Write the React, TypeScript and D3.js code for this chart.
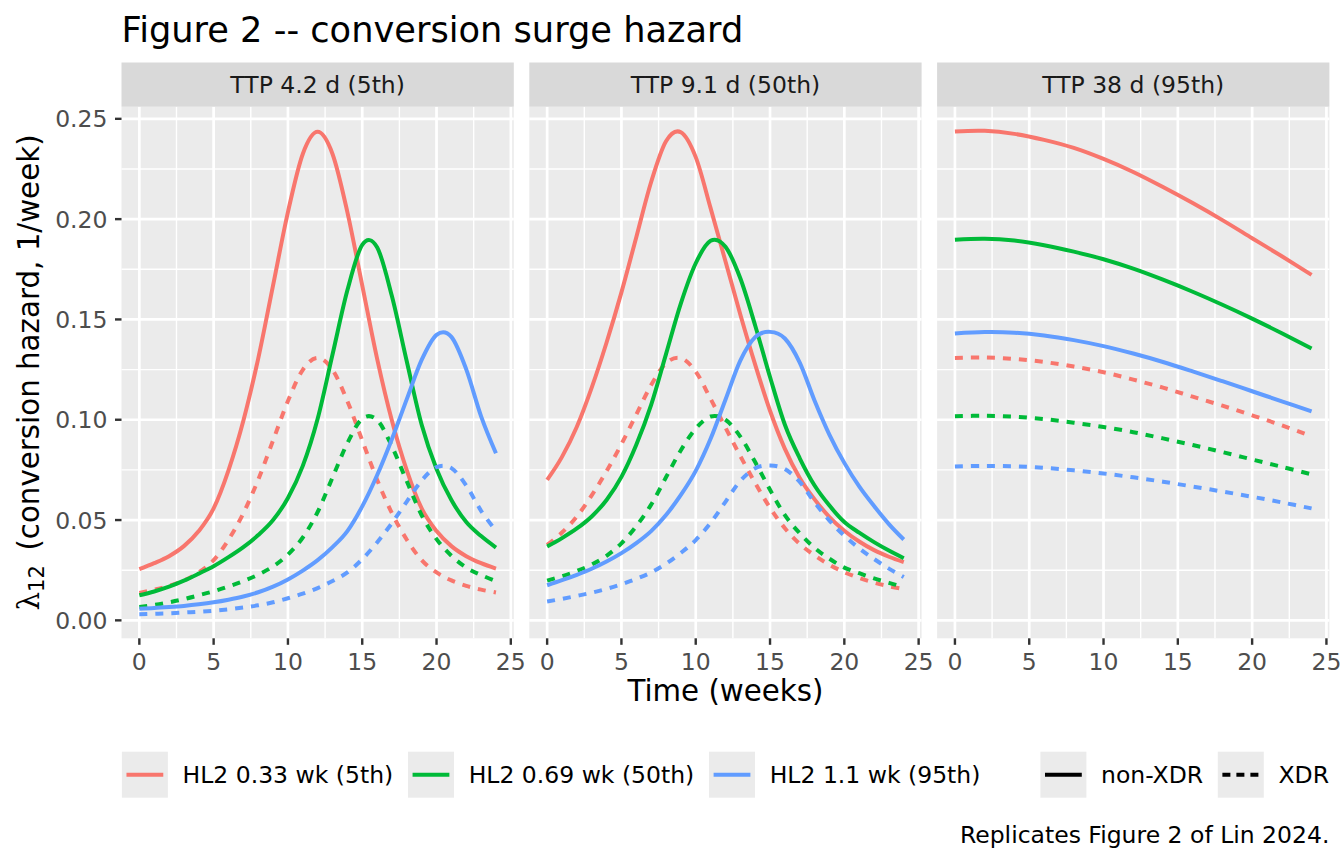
import React, { useEffect, useRef } from 'react';
import * as d3 from 'd3';

// x values (weeks); the 95th TTP panel was read every two weeks
const weeks = [0, 1, 2, 3, 4, 5, 6, 7, 8, 9, 10, 11, 12, 13, 14, 15, 16, 17, 18, 19, 20, 21, 22, 23, 24];
const weeksTtp95 = [0, 2, 4, 6, 8, 10, 12, 14, 16, 18, 20, 22, 24];

const facetLabels = ['TTP 4.2 d (5th)', 'TTP 9.1 d (50th)', 'TTP 38 d (95th)'];
const hl2Labels = ['HL2 0.33 wk (5th)', 'HL2 0.69 wk (50th)', 'HL2 1.1 wk (95th)'];
const typeLabels = ['non-XDR', 'XDR'];
const hl2Colors = ['#F8766D', '#00BA38', '#619CFF'];

const xTicks = [0, 5, 10, 15, 20, 25];
const xMinorTicks = [2.5, 7.5, 12.5, 17.5, 22.5];
const yTicks = [0, 0.05, 0.1, 0.15, 0.2, 0.25];
const yMinorTicks = [0.025, 0.075, 0.125, 0.175, 0.225];

// TTP 4.2 d (5th)
const ttp5Hl5NonXdr = [0.0255, 0.0285, 0.032, 0.037, 0.0445, 0.0558, 0.0748, 0.0995, 0.1305, 0.167, 0.2035, 0.2325, 0.2435, 0.2325, 0.2035, 0.167, 0.1305, 0.0995, 0.0748, 0.0558, 0.0445, 0.037, 0.032, 0.0285, 0.0258];
const ttp5Hl50NonXdr = [0.0125, 0.0144, 0.0168, 0.0198, 0.0233, 0.027, 0.0315, 0.0365, 0.0425, 0.05, 0.061, 0.077, 0.1005, 0.1325, 0.1645, 0.1872, 0.186, 0.1615, 0.129, 0.0975, 0.0755, 0.06, 0.049, 0.042, 0.0363];
const ttp5Hl95NonXdr = [0.0058, 0.0061, 0.0066, 0.0072, 0.008, 0.009, 0.0103, 0.0119, 0.014, 0.0168, 0.0204, 0.0248, 0.03, 0.0365, 0.0445, 0.0568, 0.0723, 0.0904, 0.1103, 0.1298, 0.1423, 0.1413, 0.1251, 0.1017, 0.0833];
const ttp5Hl5Xdr = [0.0137, 0.0153, 0.0172, 0.0199, 0.0239, 0.03, 0.0402, 0.0534, 0.0701, 0.0897, 0.1093, 0.1249, 0.1308, 0.1249, 0.1093, 0.0897, 0.0701, 0.0534, 0.0402, 0.03, 0.0239, 0.0199, 0.0172, 0.0153, 0.0139];
const ttp5Hl50Xdr = [0.0067, 0.0077, 0.009, 0.0106, 0.0125, 0.0145, 0.0169, 0.0196, 0.0228, 0.0269, 0.0328, 0.0413, 0.054, 0.0712, 0.0883, 0.1005, 0.0999, 0.0867, 0.0693, 0.0524, 0.0405, 0.0322, 0.0263, 0.0226, 0.0195];
const ttp5Hl95Xdr = [0.0031, 0.0033, 0.0035, 0.0039, 0.0043, 0.0048, 0.0055, 0.0064, 0.0075, 0.009, 0.011, 0.0133, 0.0161, 0.0196, 0.0239, 0.0305, 0.0388, 0.0485, 0.0592, 0.0697, 0.0764, 0.0759, 0.0672, 0.0546, 0.0447];

// TTP 9.1 d (50th)
const ttp50Hl5NonXdr = [0.07, 0.0815, 0.0965, 0.116, 0.1385, 0.1635, 0.191, 0.2185, 0.2388, 0.2433, 0.2309, 0.2055, 0.179, 0.1525, 0.1275, 0.1045, 0.0855, 0.071, 0.0603, 0.0515, 0.0447, 0.0393, 0.035, 0.0317, 0.029];
const ttp50Hl50NonXdr = [0.0368, 0.041, 0.0458, 0.0518, 0.06, 0.0715, 0.0875, 0.1074, 0.1327, 0.158, 0.178, 0.1892, 0.1862, 0.1705, 0.147, 0.1213, 0.0975, 0.0808, 0.0672, 0.0572, 0.049, 0.0437, 0.039, 0.0348, 0.031];
const ttp50Hl95NonXdr = [0.0175, 0.02, 0.0227, 0.0257, 0.0293, 0.0335, 0.0385, 0.0445, 0.0525, 0.0625, 0.0745, 0.0905, 0.11, 0.1295, 0.1412, 0.1438, 0.1405, 0.1285, 0.1095, 0.0925, 0.0785, 0.0668, 0.057, 0.048, 0.0403];
const ttp50Hl5Xdr = [0.0376, 0.0438, 0.0518, 0.0623, 0.0744, 0.0878, 0.1026, 0.1173, 0.1282, 0.1307, 0.124, 0.1104, 0.0961, 0.0819, 0.0685, 0.0561, 0.0459, 0.0381, 0.0324, 0.0277, 0.024, 0.0211, 0.0188, 0.017, 0.0156];
const ttp50Hl50Xdr = [0.0198, 0.022, 0.0246, 0.0278, 0.0322, 0.0384, 0.047, 0.0577, 0.0713, 0.0848, 0.0956, 0.1016, 0.1, 0.0916, 0.0789, 0.0651, 0.0524, 0.0434, 0.0361, 0.0307, 0.0263, 0.0235, 0.0209, 0.0187, 0.0166];
const ttp50Hl95Xdr = [0.0094, 0.0107, 0.0122, 0.0138, 0.0157, 0.018, 0.0207, 0.0239, 0.0282, 0.0336, 0.04, 0.0486, 0.0591, 0.0695, 0.0758, 0.0772, 0.0754, 0.069, 0.0588, 0.0497, 0.0422, 0.0359, 0.0306, 0.0258, 0.0216];

// TTP 38 d (95th)
const ttp95Hl5NonXdr = [0.2437, 0.244, 0.2425, 0.2395, 0.2355, 0.23, 0.2235, 0.216, 0.208, 0.1995, 0.1905, 0.1815, 0.1722];
const ttp95Hl50NonXdr = [0.1897, 0.1902, 0.1893, 0.187, 0.1838, 0.18, 0.1753, 0.1698, 0.1638, 0.1573, 0.1504, 0.1431, 0.1355];
const ttp95Hl95NonXdr = [0.143, 0.1437, 0.1434, 0.142, 0.1397, 0.1367, 0.133, 0.1288, 0.1241, 0.1192, 0.1142, 0.1092, 0.1042];
const ttp95Hl5Xdr = [0.1308, 0.131, 0.1303, 0.1288, 0.1265, 0.1237, 0.12, 0.116, 0.1115, 0.107, 0.1022, 0.0972, 0.0917];
const ttp95Hl50Xdr = [0.1017, 0.102, 0.1015, 0.1003, 0.0985, 0.0964, 0.0938, 0.0907, 0.0874, 0.0839, 0.0802, 0.0765, 0.0728];
const ttp95Hl95Xdr = [0.0767, 0.077, 0.0768, 0.076, 0.0748, 0.0732, 0.0713, 0.0691, 0.0667, 0.0642, 0.0616, 0.0588, 0.0558];

interface Series {
  hl: number;
  type: number;
  values: number[];
}

interface Facet {
  label: string;
  x: number[];
  series: Series[];
}

const facets: Facet[] = [
  {
    label: facetLabels[0],
    x: weeks,
    series: [
      { hl: 0, type: 0, values: ttp5Hl5NonXdr },
      { hl: 0, type: 1, values: ttp5Hl5Xdr },
      { hl: 1, type: 0, values: ttp5Hl50NonXdr },
      { hl: 1, type: 1, values: ttp5Hl50Xdr },
      { hl: 2, type: 0, values: ttp5Hl95NonXdr },
      { hl: 2, type: 1, values: ttp5Hl95Xdr },
    ],
  },
  {
    label: facetLabels[1],
    x: weeks,
    series: [
      { hl: 0, type: 0, values: ttp50Hl5NonXdr },
      { hl: 0, type: 1, values: ttp50Hl5Xdr },
      { hl: 1, type: 0, values: ttp50Hl50NonXdr },
      { hl: 1, type: 1, values: ttp50Hl50Xdr },
      { hl: 2, type: 0, values: ttp50Hl95NonXdr },
      { hl: 2, type: 1, values: ttp50Hl95Xdr },
    ],
  },
  {
    label: facetLabels[2],
    x: weeksTtp95,
    series: [
      { hl: 0, type: 0, values: ttp95Hl5NonXdr },
      { hl: 0, type: 1, values: ttp95Hl5Xdr },
      { hl: 1, type: 0, values: ttp95Hl50NonXdr },
      { hl: 1, type: 1, values: ttp95Hl50Xdr },
      { hl: 2, type: 0, values: ttp95Hl95NonXdr },
      { hl: 2, type: 1, values: ttp95Hl95Xdr },
    ],
  },
];

const WIDTH = 1344;
const HEIGHT = 864;
const FONT = '"DejaVu Sans", Verdana, sans-serif';

const App: React.FC = () => {
  const svgRef = useRef<SVGSVGElement>(null);

  useEffect(() => {
    if (!svgRef.current) return;
    document.body.style.margin = '0';

    const svg = d3.select(svgRef.current);
    svg.selectAll('*').remove();

    // layout (px)
    const panelTop = 106.7;
    const panelBottom = 638.3;
    const stripTop = 62.5;
    const panelLeft0 = 121.5;
    const panelWidth = 392.3;
    const panelGap = 15.5;
    const plotLeft = panelLeft0;
    const plotRight = panelLeft0 + 3 * panelWidth + 2 * panelGap;

    // ggplot style 5% expansion on both scales
    const allValues = facets.flatMap((f) => f.series.flatMap((s) => s.values));
    const [yMin, yMax] = d3.extent(allValues) as [number, number];
    const yPad = (yMax - yMin) * 0.05;
    const yScale = d3
      .scaleLinear()
      .domain([yMin - yPad, yMax + yPad])
      .range([panelBottom, panelTop]);

    const allX = facets.flatMap((f) => f.x);
    const [xMin, xMax] = d3.extent(allX) as [number, number];
    const xPad = (xMax - xMin) * 0.05;

    svg.append('rect').attr('width', WIDTH).attr('height', HEIGHT).attr('fill', '#ffffff');

    // title
    svg
      .append('text')
      .attr('x', plotLeft)
      .attr('y', 42)
      .style('font-family', FONT)
      .style('font-size', '35.2px')
      .attr('fill', '#000000')
      .text('Figure 2 -- conversion surge hazard');

    facets.forEach((facet, i) => {
      const left = panelLeft0 + i * (panelWidth + panelGap);
      const xScale = d3
        .scaleLinear()
        .domain([xMin - xPad, xMax + xPad])
        .range([left, left + panelWidth]);

      const g = svg.append('g');

      // panel background
      g.append('rect')
        .attr('x', left)
        .attr('y', panelTop)
        .attr('width', panelWidth)
        .attr('height', panelBottom - panelTop)
        .attr('fill', '#EBEBEB');

      // minor grid
      g.selectAll('.xminor')
        .data(xMinorTicks)
        .enter()
        .append('line')
        .attr('x1', (d) => xScale(d))
        .attr('x2', (d) => xScale(d))
        .attr('y1', panelTop)
        .attr('y2', panelBottom)
        .attr('stroke', '#ffffff')
        .attr('stroke-width', 1.4);
      g.selectAll('.yminor')
        .data(yMinorTicks)
        .enter()
        .append('line')
        .attr('x1', left)
        .attr('x2', left + panelWidth)
        .attr('y1', (d) => yScale(d))
        .attr('y2', (d) => yScale(d))
        .attr('stroke', '#ffffff')
        .attr('stroke-width', 1.4);

      // major grid
      g.selectAll('.xmajor')
        .data(xTicks)
        .enter()
        .append('line')
        .attr('x1', (d) => xScale(d))
        .attr('x2', (d) => xScale(d))
        .attr('y1', panelTop)
        .attr('y2', panelBottom)
        .attr('stroke', '#ffffff')
        .attr('stroke-width', 2.7);
      g.selectAll('.ymajor')
        .data(yTicks)
        .enter()
        .append('line')
        .attr('x1', left)
        .attr('x2', left + panelWidth)
        .attr('y1', (d) => yScale(d))
        .attr('y2', (d) => yScale(d))
        .attr('stroke', '#ffffff')
        .attr('stroke-width', 2.7);

      // curves (uniform Catmull-Rom through the weekly readings)
      const line = d3
        .line<number>()
        .x((_, j) => xScale(facet.x[j]))
        .y((d) => yScale(d))
        .curve(d3.curveCardinal.tension(0));

      facet.series.forEach((s) => {
        g.append('path')
          .attr('d', line(s.values) || '')
          .attr('fill', 'none')
          .attr('stroke', hl2Colors[s.hl])
          .attr('stroke-width', 4)
          .attr('stroke-dasharray', s.type === 1 ? '8 8' : null);
      });

      // strip
      g.append('rect')
        .attr('x', left)
        .attr('y', stripTop)
        .attr('width', panelWidth)
        .attr('height', panelTop - stripTop)
        .attr('fill', '#D9D9D9');
      g.append('text')
        .attr('x', left + panelWidth / 2)
        .attr('y', 93.3)
        .attr('text-anchor', 'middle')
        .style('font-family', FONT)
        .style('font-size', '23.5px')
        .attr('fill', '#1A1A1A')
        .text(facet.label);

      // x axis
      g.selectAll('.xtick')
        .data(xTicks)
        .enter()
        .append('line')
        .attr('x1', (d) => xScale(d))
        .attr('x2', (d) => xScale(d))
        .attr('y1', panelBottom)
        .attr('y2', panelBottom + 6.5)
        .attr('stroke', '#333333')
        .attr('stroke-width', 2.4);
      g.selectAll('.xlabel')
        .data(xTicks)
        .enter()
        .append('text')
        .attr('x', (d) => xScale(d))
        .attr('y', 670)
        .attr('text-anchor', 'middle')
        .style('font-family', FONT)
        .style('font-size', '23.5px')
        .attr('fill', '#4D4D4D')
        .text((d) => String(d));

      // y axis on the first panel only
      if (i === 0) {
        g.selectAll('.ytick')
          .data(yTicks)
          .enter()
          .append('line')
          .attr('x1', left - 6.5)
          .attr('x2', left)
          .attr('y1', (d) => yScale(d))
          .attr('y2', (d) => yScale(d))
          .attr('stroke', '#333333')
          .attr('stroke-width', 2.4);
        g.selectAll('.ylabel')
          .data(yTicks)
          .enter()
          .append('text')
          .attr('x', left - 14)
          .attr('y', (d) => yScale(d) + 8.6)
          .attr('text-anchor', 'end')
          .style('font-family', FONT)
          .style('font-size', '23.5px')
          .attr('fill', '#4D4D4D')
          .text((d) => d3.format('.2f')(d));
      }
    });

    // axis titles
    svg
      .append('text')
      .attr('x', (plotLeft + plotRight) / 2)
      .attr('y', 701)
      .attr('text-anchor', 'middle')
      .style('font-family', FONT)
      .style('font-size', '29.3px')
      .attr('fill', '#000000')
      .text('Time (weeks)');

    const yTitle = svg
      .append('text')
      .attr('transform', `translate(38.5, ${(panelTop + panelBottom) / 2}) rotate(-90)`)
      .attr('text-anchor', 'middle')
      .style('font-family', FONT)
      .style('font-size', '29.3px')
      .attr('fill', '#000000');
    yTitle.append('tspan').style('font-family', '"DejaVu Serif", serif').text('λ');
    yTitle.append('tspan').attr('dy', '0.28em').style('font-size', '21px').text('12');
    yTitle.append('tspan').attr('dy', '-0.2em').text('\u2002(conversion hazard, 1/week)');

    // legends
    const keySize = 46;
    const textGap = 14.7;
    const itemGap = 14.7;
    const legendGap = 60;
    const legendY = 751.7;

    type LegendItem = { label: string; color: string; dashed: boolean };
    const colorItems: LegendItem[] = hl2Labels.map((l, k) => ({ label: l, color: hl2Colors[k], dashed: false }));
    const typeItems: LegendItem[] = typeLabels.map((l, k) => ({ label: l, color: '#000000', dashed: k === 1 }));

    const legendG = svg.append('g');
    const measure = (label: string) => {
      const t = legendG
        .append('text')
        .style('font-family', FONT)
        .style('font-size', '23.5px')
        .text(label);
      const w = (t.node() as SVGTextElement).getComputedTextLength();
      t.remove();
      return w;
    };
    const groupWidth = (items: LegendItem[]) =>
      d3.sum(items, (it) => keySize + textGap + measure(it.label)) + (items.length - 1) * itemGap;

    const w1 = groupWidth(colorItems);
    const w2 = groupWidth(typeItems);
    let cursor = (plotLeft + plotRight) / 2 - (w1 + legendGap + w2) / 2;

    const drawGroup = (items: LegendItem[]) => {
      items.forEach((it, k) => {
        legendG
          .append('rect')
          .attr('x', cursor)
          .attr('y', legendY)
          .attr('width', keySize)
          .attr('height', keySize)
          .attr('fill', '#EBEBEB');
        legendG
          .append('line')
          .attr('x1', cursor + keySize * 0.1)
          .attr('x2', cursor + keySize * 0.9)
          .attr('y1', legendY + keySize / 2)
          .attr('y2', legendY + keySize / 2)
          .attr('stroke', it.color)
          .attr('stroke-width', 4)
          .attr('stroke-dasharray', it.dashed ? '8 6' : null);
        const tx = cursor + keySize + textGap;
        legendG
          .append('text')
          .attr('x', tx)
          .attr('y', legendY + keySize / 2 + 8.5)
          .style('font-family', FONT)
          .style('font-size', '23.5px')
          .attr('fill', '#000000')
          .text(it.label);
        cursor = tx + measure(it.label) + (k < items.length - 1 ? itemGap : 0);
      });
    };
    drawGroup(colorItems);
    cursor += legendGap;
    drawGroup(typeItems);

    // caption
    svg
      .append('text')
      .attr('x', plotRight)
      .attr('y', 843)
      .attr('text-anchor', 'end')
      .style('font-family', FONT)
      .style('font-size', '23.5px')
      .attr('fill', '#000000')
      .text('Replicates Figure 2 of Lin 2024.');
  }, []);

  return (
    <div>
      <svg ref={svgRef} width={WIDTH} height={HEIGHT} style={{ display: 'block' }} />
    </div>
  );
};

export default App;
